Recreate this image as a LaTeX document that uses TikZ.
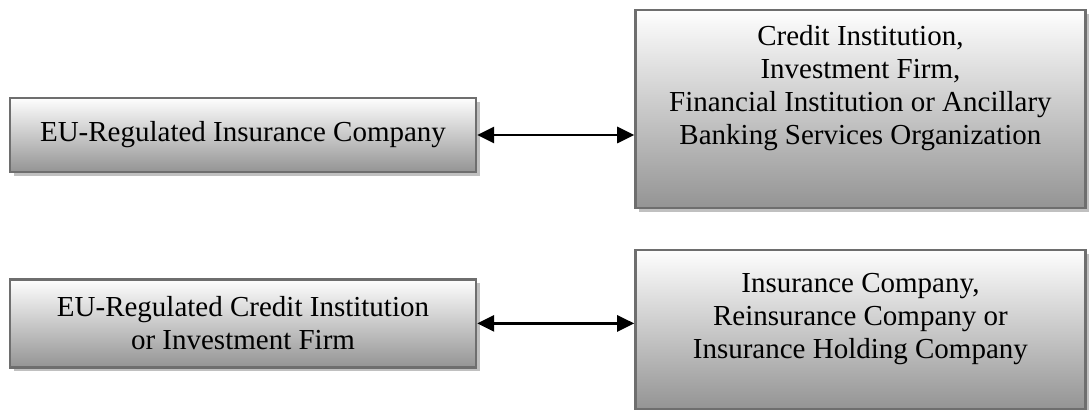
\documentclass[tikz,border=0pt]{standalone}
\usepackage{fontspec}
\setmainfont{Liberation Serif}
\usetikzlibrary{positioning,arrows.meta,shadows}
\definecolor{boxedge}{RGB}{110,110,110}
\definecolor{boxtop}{RGB}{254,254,254}
\definecolor{boxbottom}{RGB}{148,148,148}
\definecolor{boxshadow}{RGB}{192,192,192}
\tikzset{
  entity/.style={rectangle, draw=boxedge, line width=1.2pt, top color=boxtop,
    bottom color=boxbottom, general shadow={fill=boxshadow, shadow xshift=2pt, shadow yshift=-2pt},
    align=center, inner sep=0pt, font=\fontsize{14.5pt}{16.5pt}\selectfont},
  linkarrow/.style={{Triangle[length=8.5pt,width=8pt]}-{Triangle[length=8.5pt,width=8pt]}, line width=1.4pt}
}

\begin{document}
\begin{tikzpicture}[x=0.5pt,y=-0.5pt]
  \useasboundingbox (0,0) rectangle (1091,410);
  % insurance side, top row
  \node[entity, minimum width=233pt, minimum height=37pt] (ins) at (243,135)
    {EU-Regulated Insurance Company};
  \node[entity, minimum width=225pt, minimum height=99pt, text depth=24pt,
    right=78.5pt of ins, yshift=13pt] (bank)
    {Credit Institution,\\Investment Firm,\\Financial Institution or Ancillary\\Banking Services Organization};
  % banking side, bottom row
  \node[entity, minimum width=233pt, minimum height=44pt, below=52.5pt of ins] (cred)
    {EU-Regulated Credit Institution\\or Investment Firm};
  \node[entity, minimum width=225pt, minimum height=79.5pt, text depth=13pt,
    right=78.5pt of cred, yshift=-3pt] (reins)
    {Insurance Company,\\Reinsurance Company or\\Insurance Holding Company};
  \draw[linkarrow] (ins.east) -- (ins.east -| bank.west);
  \draw[linkarrow] (cred.east) -- (cred.east -| reins.west);
\end{tikzpicture}
\end{document}
